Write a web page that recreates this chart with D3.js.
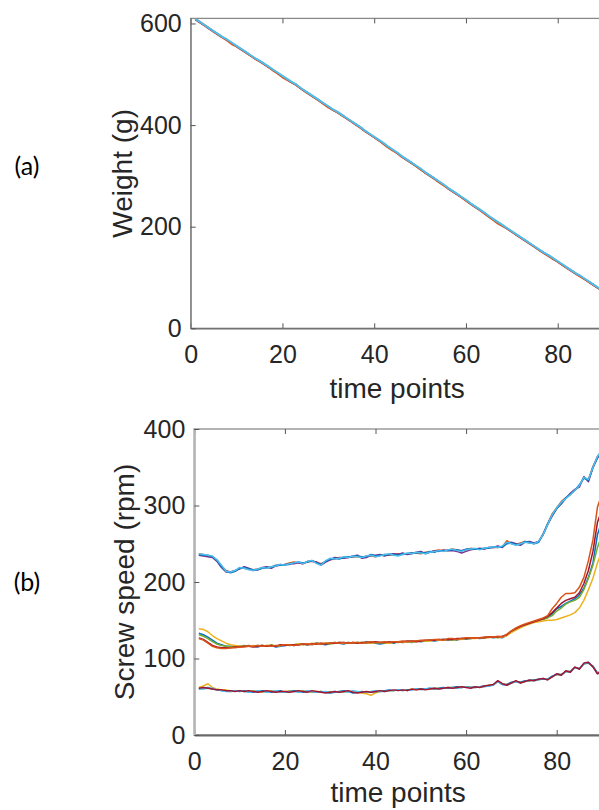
<!DOCTYPE html>
<html>
<head>
<meta charset="utf-8">
<script src="https://cdn.jsdelivr.net/npm/d3@7"></script>
<style>
  html, body { margin: 0; padding: 0; background: #fff; overflow: hidden; }
  svg { display: block; }
  .tick text { font-family: "Liberation Sans", Arial, sans-serif; font-size: 25px; fill: #262626; }
  .lbl { font-family: "Liberation Sans", Arial, sans-serif; font-size: 28px; fill: #262626; }
  .panel { font-family: Lato, "Open Sans", sans-serif; font-size: 25px; fill: #000; }
</style>
</head>
<body>
<div id="chart"></div>
<script>
// time points 1..90
const timePoints = d3.range(1, 91);
const xTicks = [0, 20, 40, 60, 80];
const weightTicks = [0, 200, 400, 600];
const speedTicks = [0, 100, 200, 300, 400];

// (a) weight (g)
const weightRed = [608,602,596,590,584,578,572,567,561,555,549,543,537,531,526,520,514,508,502,496,490,484,479,472,466,460,454,448,442,436,430,425,419,413,407,401,395,388,382,376,370,364,357,351,345,338,332,326,320,314,307,301,295,289,283,276,270,264,258,252,245,239,233,227,220,214,208,202,196,190,184,178,172,166,160,154,148,143,137,131,125,119,113,107,102,96,90,84,78,72];
const weightOrange = [609,603,597,591,584,578,572,566,559,555,549,543,537,531,526,520,514,507,501,494,489,484,479,472,466,460,454,448,441,435,430,425,419,413,407,401,395,388,382,376,370,363,356,350,345,338,332,326,320,313,307,301,295,288,282,276,270,264,258,251,245,239,233,226,219,213,206,201,196,190,184,178,172,166,160,154,148,142,136,131,125,119,113,107,101,96,90,84,78,72];
const weightCyan = [609,603,597,591,585,579,573,568,562,556,550,544,538,532,527,521,515,509,503,497,491,485,480,473,467,461,455,449,443,437,431,426,420,414,408,402,396,389,383,377,371,365,358,352,346,339,333,327,321,315,308,302,296,290,284,277,271,265,259,253,246,240,234,228,221,215,209,203,197,191,185,179,173,167,161,155,149,144,138,132,126,120,114,108,103,97,91,85,79,73];

// (b) screw speed (rpm), upper group
const highBlue = [236,235,235,233,228,220,214,212,214,218,219,217,216,216,218,219,219,222,222,223,223,225,226,225,226,228,225,223,227,230,231,230,232,233,233,234,233,233,236,234,235,235,236,236,235,237,237,238,238,239,238,240,239,241,241,241,242,242,241,243,243,243,243,244,244,246,246,246,250,251,249,249,253,252,250,252,262,276,287,296,303,310,315,320,327,336,333,349,363,371];
const highPurple = [235,234,233,232,227,219,213,213,215,217,220,218,215,216,219,220,218,221,223,222,224,224,225,224,227,227,226,222,226,229,232,231,231,232,234,235,231,232,235,235,236,234,236,237,236,238,236,237,239,240,237,239,241,240,242,241,241,240,238,240,242,243,244,243,245,245,247,245,251,252,250,248,252,253,251,253,262,275,286,296,302,309,316,321,324,338,331,350,362,370];
const highOrange = [237,236,234,233,229,221,215,213,214,218,218,217,216,217,218,218,220,221,222,223,225,226,225,224,226,227,226,224,227,229,230,232,232,232,233,233,232,234,234,233,235,236,235,236,237,236,237,238,238,237,239,239,241,242,241,242,243,242,241,242,244,243,243,243,245,245,245,246,254,250,249,251,253,251,251,252,263,276,289,297,305,310,314,320,326,336,334,351,364,372];
const highCyan = [237,236,235,234,229,222,214,213,215,219,218,216,215,217,219,218,220,221,223,222,224,225,226,224,227,228,224,222,228,231,230,231,233,232,234,233,232,234,235,233,234,236,237,235,234,236,238,237,239,238,237,239,240,241,240,242,243,241,240,242,243,244,242,244,245,246,245,247,252,250,248,250,252,251,250,253,262,275,288,297,304,309,314,320,326,337,334,350,364,372];

// middle group
const midBlue = [133,131,128,124,120,118,116,116,115,116,116,117,116,115,117,116,117,115,116,117,118,117,118,119,118,119,120,119,118,120,121,120,119,121,120,121,120,122,121,120,119,120,121,120,122,121,122,121,123,122,123,124,123,124,125,124,125,124,126,125,126,127,126,127,128,127,128,127,131,135,139,142,144,146,148,150,152,154,158,165,168,172,175,178,183,192,206,225,262,280];
const midGreen = [131,129,126,122,119,117,116,115,116,116,117,116,116,117,117,116,118,116,117,118,117,118,119,118,119,119,120,119,120,119,120,121,120,121,120,121,121,120,122,121,121,120,121,122,121,122,122,122,123,123,123,124,124,124,125,125,124,125,126,126,126,127,127,127,128,128,127,128,130,135,138,141,143,146,148,150,151,153,156,162,166,171,174,176,180,190,205,222,245,262];
const midYellow = [139,138,135,130,126,123,120,118,117,116,116,116,117,116,116,117,117,116,117,118,118,118,119,118,119,120,119,120,120,120,120,121,120,120,121,120,121,121,120,121,121,121,120,121,122,121,122,122,122,123,123,123,124,124,124,125,125,125,125,126,126,126,127,127,127,128,128,128,130,134,137,140,143,145,147,148,149,150,150,151,153,155,157,160,166,176,190,205,225,240];
const midRed = [127,125,121,117,115,114,114,114,115,115,116,116,115,116,117,116,117,116,118,117,118,118,118,119,118,119,119,120,119,120,120,121,121,120,121,120,121,121,121,122,121,121,122,121,122,122,123,123,122,123,124,124,124,125,125,125,125,126,126,126,127,127,127,127,128,128,128,129,131,136,139,142,144,146,148,150,152,155,160,166,172,176,178,180,186,198,215,240,278,295];
const midOrange = [126,124,120,116,114,113,113,114,114,115,115,116,116,117,116,117,116,117,117,118,118,117,118,119,119,118,120,119,120,120,121,120,121,120,121,121,120,121,122,121,121,122,121,122,122,123,122,123,123,124,124,124,125,125,124,126,126,125,126,127,127,127,127,128,128,128,129,128,132,136,140,143,145,147,149,151,153,156,165,172,180,185,185,186,193,206,228,255,298,315];

// lower group
const lowYellow = [62,64,67,62,60,59,59,58,58,58,57,57,58,57,56,57,58,57,56,57,58,57,57,58,57,56,57,57,56,57,56,57,56,57,57,56,55,54,52,55,57,58,58,58,59,58,59,60,59,60,60,60,61,61,61,62,62,62,62,63,63,62,63,63,65,65,70,67,66,68,70,69,70,71,72,72,74,73,76,79,79,83,83,88,87,93,94,90,81,84];
const lowBlue = [60,61,62,60,59,58,58,57,58,57,58,57,56,57,58,57,56,57,58,56,57,58,57,56,57,57,56,57,56,55,56,57,58,57,55,56,57,56,56,57,57,58,59,58,59,58,59,59,60,60,60,61,60,61,62,61,62,63,62,63,62,62,63,64,64,66,70,66,66,69,70,69,71,71,72,73,73,73,77,79,79,83,83,88,87,93,94,90,81,83];
const lowCyan = [61,60,61,61,59,58,57,57,58,58,57,56,57,58,57,56,57,58,56,56,57,57,56,57,58,57,56,56,57,56,57,56,57,56,58,57,56,56,57,58,57,57,58,58,59,59,58,59,60,59,60,61,61,60,61,62,62,61,62,63,62,63,63,63,64,65,70,66,65,68,70,68,70,72,71,72,74,73,76,80,78,83,82,88,87,93,95,89,80,84];
const lowRed = [61,62,61,60,59,59,58,58,57,58,57,58,57,56,57,58,57,56,57,57,56,57,58,57,56,58,57,56,55,56,57,56,57,58,56,55,56,57,56,57,58,57,58,59,58,59,58,60,59,60,59,60,61,60,61,62,61,62,63,62,61,63,62,64,65,66,71,67,65,68,71,68,70,72,71,73,74,72,76,80,78,84,82,89,86,94,95,89,80,84];

const C = {
  blue: '#0072BD', orange: '#D95319', yellow: '#EDB120', purple: '#7E2F8E',
  green: '#77AC30', cyan: '#4DBEEE', red: '#A2142F'
};

const weightSeries = [
  { v: weightRed, c: C.red }, { v: weightOrange, c: C.orange }, { v: weightCyan, c: C.cyan }
];
const speedSeries = [
  { v: lowYellow, c: C.yellow }, { v: lowBlue, c: C.blue }, { v: lowCyan, c: C.cyan }, { v: lowRed, c: C.red },
  { v: midBlue, c: C.blue }, { v: midGreen, c: C.green }, { v: midYellow, c: C.yellow },
  { v: midRed, c: C.red }, { v: midOrange, c: C.orange },
  { v: highOrange, c: C.orange }, { v: highPurple, c: C.purple }, { v: highBlue, c: C.blue }, { v: highCyan, c: C.cyan }
];

const [W, H] = [599, 810];
const svg = d3.select('#chart').append('svg').attr('width', W).attr('height', H);

function panel(opt) {
  const x = d3.scaleLinear().domain([0, 90]).range([opt.x0, opt.x1]);
  const y = d3.scaleLinear().domain(opt.yDomain).range([opt.y0, opt.y1]);
  const g = svg.append('g');

  // box
  g.append('rect')
    .attr('x', opt.x0).attr('y', opt.y1)
    .attr('width', opt.x1 - opt.x0).attr('height', opt.y0 - opt.y1)
    .attr('fill', 'none').attr('stroke', opt.boxColor).attr('stroke-width', opt.boxWidth);

  const line = d3.line().x((d, i) => x(timePoints[i])).y(d => y(d));
  g.append('g').selectAll('path')
    .data(opt.series).join('path')
    .attr('d', d => line(d.v))
    .attr('fill', 'none').attr('stroke', d => d.c)
    .attr('stroke-width', opt.lineWidth).attr('stroke-linejoin', 'round');

  const xAxis = g.append('g').attr('transform', `translate(0,${opt.y0})`)
    .call(d3.axisBottom(x).tickValues(xTicks).tickSizeInner(-5).tickSizeOuter(0).tickPadding(17));
  xAxis.select('.domain').attr('stroke', opt.axisColor).attr('stroke-width', opt.boxWidth);
  xAxis.selectAll('.tick line').attr('stroke', '#555');

  const xTop = g.append('g').attr('transform', `translate(0,${opt.y1})`)
    .call(d3.axisTop(x).tickValues(xTicks).tickSizeInner(-5).tickSizeOuter(0).tickFormat(''));
  xTop.select('.domain').remove();
  xTop.selectAll('.tick line').attr('stroke', '#555');

  const yAxis = g.append('g').attr('transform', `translate(${opt.x0},0)`)
    .call(d3.axisLeft(y).tickValues(opt.yTicks).tickSizeInner(-5).tickSizeOuter(0).tickPadding(9));
  yAxis.select('.domain').attr('stroke', opt.boxColor).attr('stroke-width', opt.boxWidth);
  yAxis.selectAll('.tick line').attr('stroke', '#555');

  g.append('text').attr('class', 'lbl')
    .attr('x', (opt.x0 + opt.x1) / 2).attr('y', opt.xLabelY)
    .attr('text-anchor', 'middle').text('time points');
  g.append('text').attr('class', 'lbl')
    .attr('transform', `translate(${opt.yLabelX},${(opt.y0 + opt.y1) / 2}) rotate(-90)`)
    .attr('text-anchor', 'middle').text(opt.yLabel);
  g.append('text').attr('class', 'panel')
    .attr('x', 27).attr('y', opt.panelY)
    .attr('text-anchor', 'middle').text(opt.panel);
}

panel({
  x0: 190.7, x1: 603.6, y0: 328.3, y1: 18.4, yDomain: [0, 610], yTicks: weightTicks,
  series: weightSeries, lineWidth: 2, boxColor: '#8a8a8a', axisColor: '#6a6a6a', boxWidth: 1.3,
  xLabelY: 398, yLabelX: 131.5, yLabel: 'Weight (g)', panel: '(a)', panelY: 175
});
panel({
  x0: 194.3, x1: 602, y0: 735, y1: 429, yDomain: [0, 400], yTicks: speedTicks,
  series: speedSeries, lineWidth: 1.5, boxColor: '#b4b4b4', axisColor: '#6a6a6a', boxWidth: 2,
  xLabelY: 802, yLabelX: 133.5, yLabel: 'Screw speed (rpm)', panel: '(b)', panelY: 591
});
</script>
</body>
</html>
